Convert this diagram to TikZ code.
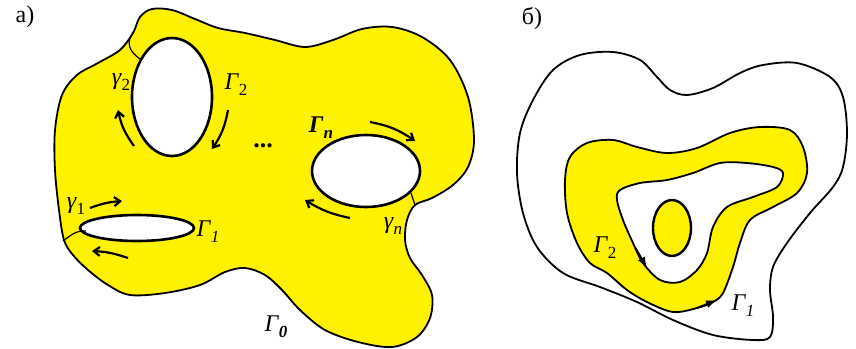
\documentclass[tikz,border=0pt]{standalone}
\usepackage{fontspec}
\setmainfont{Liberation Serif}
\usetikzlibrary{arrows.meta}
\definecolor{areayellow}{RGB}{255,242,0}
\newcommand{\lbl}[2]{\textit{#1}\raisebox{-.55ex}{\fontsize{17}{17}\selectfont #2}}

\begin{document}
\begin{tikzpicture}[x=1pt,y=-1pt,>=Latex,every node/.style={font=\fontsize{24}{24}\selectfont,inner sep=1pt},
  contour/.style={line width=1.8pt,line join=round},
  hole/.style={line width=2.6pt,fill=white},
  cut/.style={line width=1.2pt},
  turn/.style={->,line width=2.2pt,>={Straight Barb[length=6pt,width=9pt]}},
  orient/.style={-{Latex[length=11pt,width=8pt]},line width=1.8pt}]
\useasboundingbox (0,0) rectangle (856,348);
\node (parta) at (25,17) {a)};
\draw[contour,fill=areayellow] plot[smooth cycle,tension=.55] coordinates {(133,33) (140,17) (152,9) (172,10) (195,19) (218,28) (245,33) (275,40) (305,47) (333,40) (362,29) (392,27) (422,37) (450,60) (468,97) (474,140) (468,167) (453,185) (432,198) (415,205) (407,220) (405,240) (410,258) (422,275) (432,295) (430,318) (417,337) (392,347) (358,342) (325,330) (300,310) (282,290) (265,275) (245,268) (225,272) (200,285) (165,293) (130,295) (108,285) (88,270) (73,255) (64,240) (59,210) (55,170) (55,130) (62,95) (77,75) (98,63) (120,50)};
\draw[hole] (172,97) ellipse [x radius=40,y radius=59];
\draw[hole] (137,228) ellipse [x radius=57,y radius=13];
\draw[hole] (366,171) ellipse [x radius=54,y radius=36];
\draw[cut] (132,34) .. controls (126,44) and (130,52) .. (140,59);
\draw[cut] (63,241) .. controls (70,236) and (76,230) .. (86,231);
\draw[cut] (411,193) -- (415,205);
\draw[turn] (90,208) to[bend left=8] (122,201);
\draw[turn] (128,258) to[bend right=8] (92,251);
\draw[turn] (134,146) to[bend left=12] (118,110);
\draw[turn] (228,110) to[bend left=12] (212,149);
\draw[turn] (370,122) to[bend left=12] (415,141);
\draw[turn] (350,218) to[bend left=10] (305,200);
\node (gam2) at (121,82) {\lbl{γ}{2}};
\node (Gam2) at (236,85) {\lbl{Γ}{2}};
\node (gam1) at (76,206) {\lbl{γ}{1}};
\node (Gam1) at (208,232) {\lbl{Γ}{\textit{1}}};
\node (Gamn) at (321,128) {\textbf{\lbl{Γ}{\textit{n}}}};
\node (gamn) at (393,226) {\lbl{γ}{\textit{n}}};
\node (Gam0) at (276,327) {\lbl{Γ}{\textbf{\textit{0}}}};
\node[font=\fontsize{26}{26}\selectfont\bfseries] (dots) at (263,146) {...};
\node (partb) at (532,18) {б)};
\draw[contour] plot[smooth cycle,tension=.55] coordinates {(580,55) (613,52) (640,60) (657,77) (670,90) (687,95) (713,88) (740,73) (763,65) (797,63) (830,77) (843,97) (847,133) (843,167) (833,187) (810,213) (787,243) (773,267) (770,290) (773,317) (770,337) (753,340) (713,335) (673,320) (637,302) (600,287) (563,273) (537,247) (523,213) (517,173) (520,133) (533,100) (553,70)};
\draw[contour,fill=areayellow] plot[smooth cycle,tension=.55] coordinates {(587,143) (613,140) (637,147) (667,153) (697,148) (730,133) (760,127) (790,130) (803,147) (807,173) (797,193) (773,207) (750,220) (740,243) (733,267) (723,293) (713,302) (697,308) (673,312) (647,302) (627,290) (607,273) (590,263) (577,243) (567,213) (565,180) (570,157)};
\draw[contour,fill=white] plot[smooth cycle,tension=.55] coordinates {(620,190) (640,183) (667,180) (693,173) (720,163) (747,163) (773,167) (783,173) (777,187) (753,197) (727,207) (713,227) (707,253) (697,270) (680,282) (660,280) (643,263) (633,243) (623,220) (617,200)};
\draw[line width=2.4pt,fill=areayellow] (672,228) ellipse [x radius=19,y radius=28];
\draw[orient] (635,247) -- (647,268);
\draw[orient] (697,308) -- (717,300);
\node (Gam2b) at (605,248) {\lbl{Γ}{2}};
\node (Gam1b) at (743,306) {\lbl{Γ}{\textit{1}}};
\end{tikzpicture}
\end{document}
